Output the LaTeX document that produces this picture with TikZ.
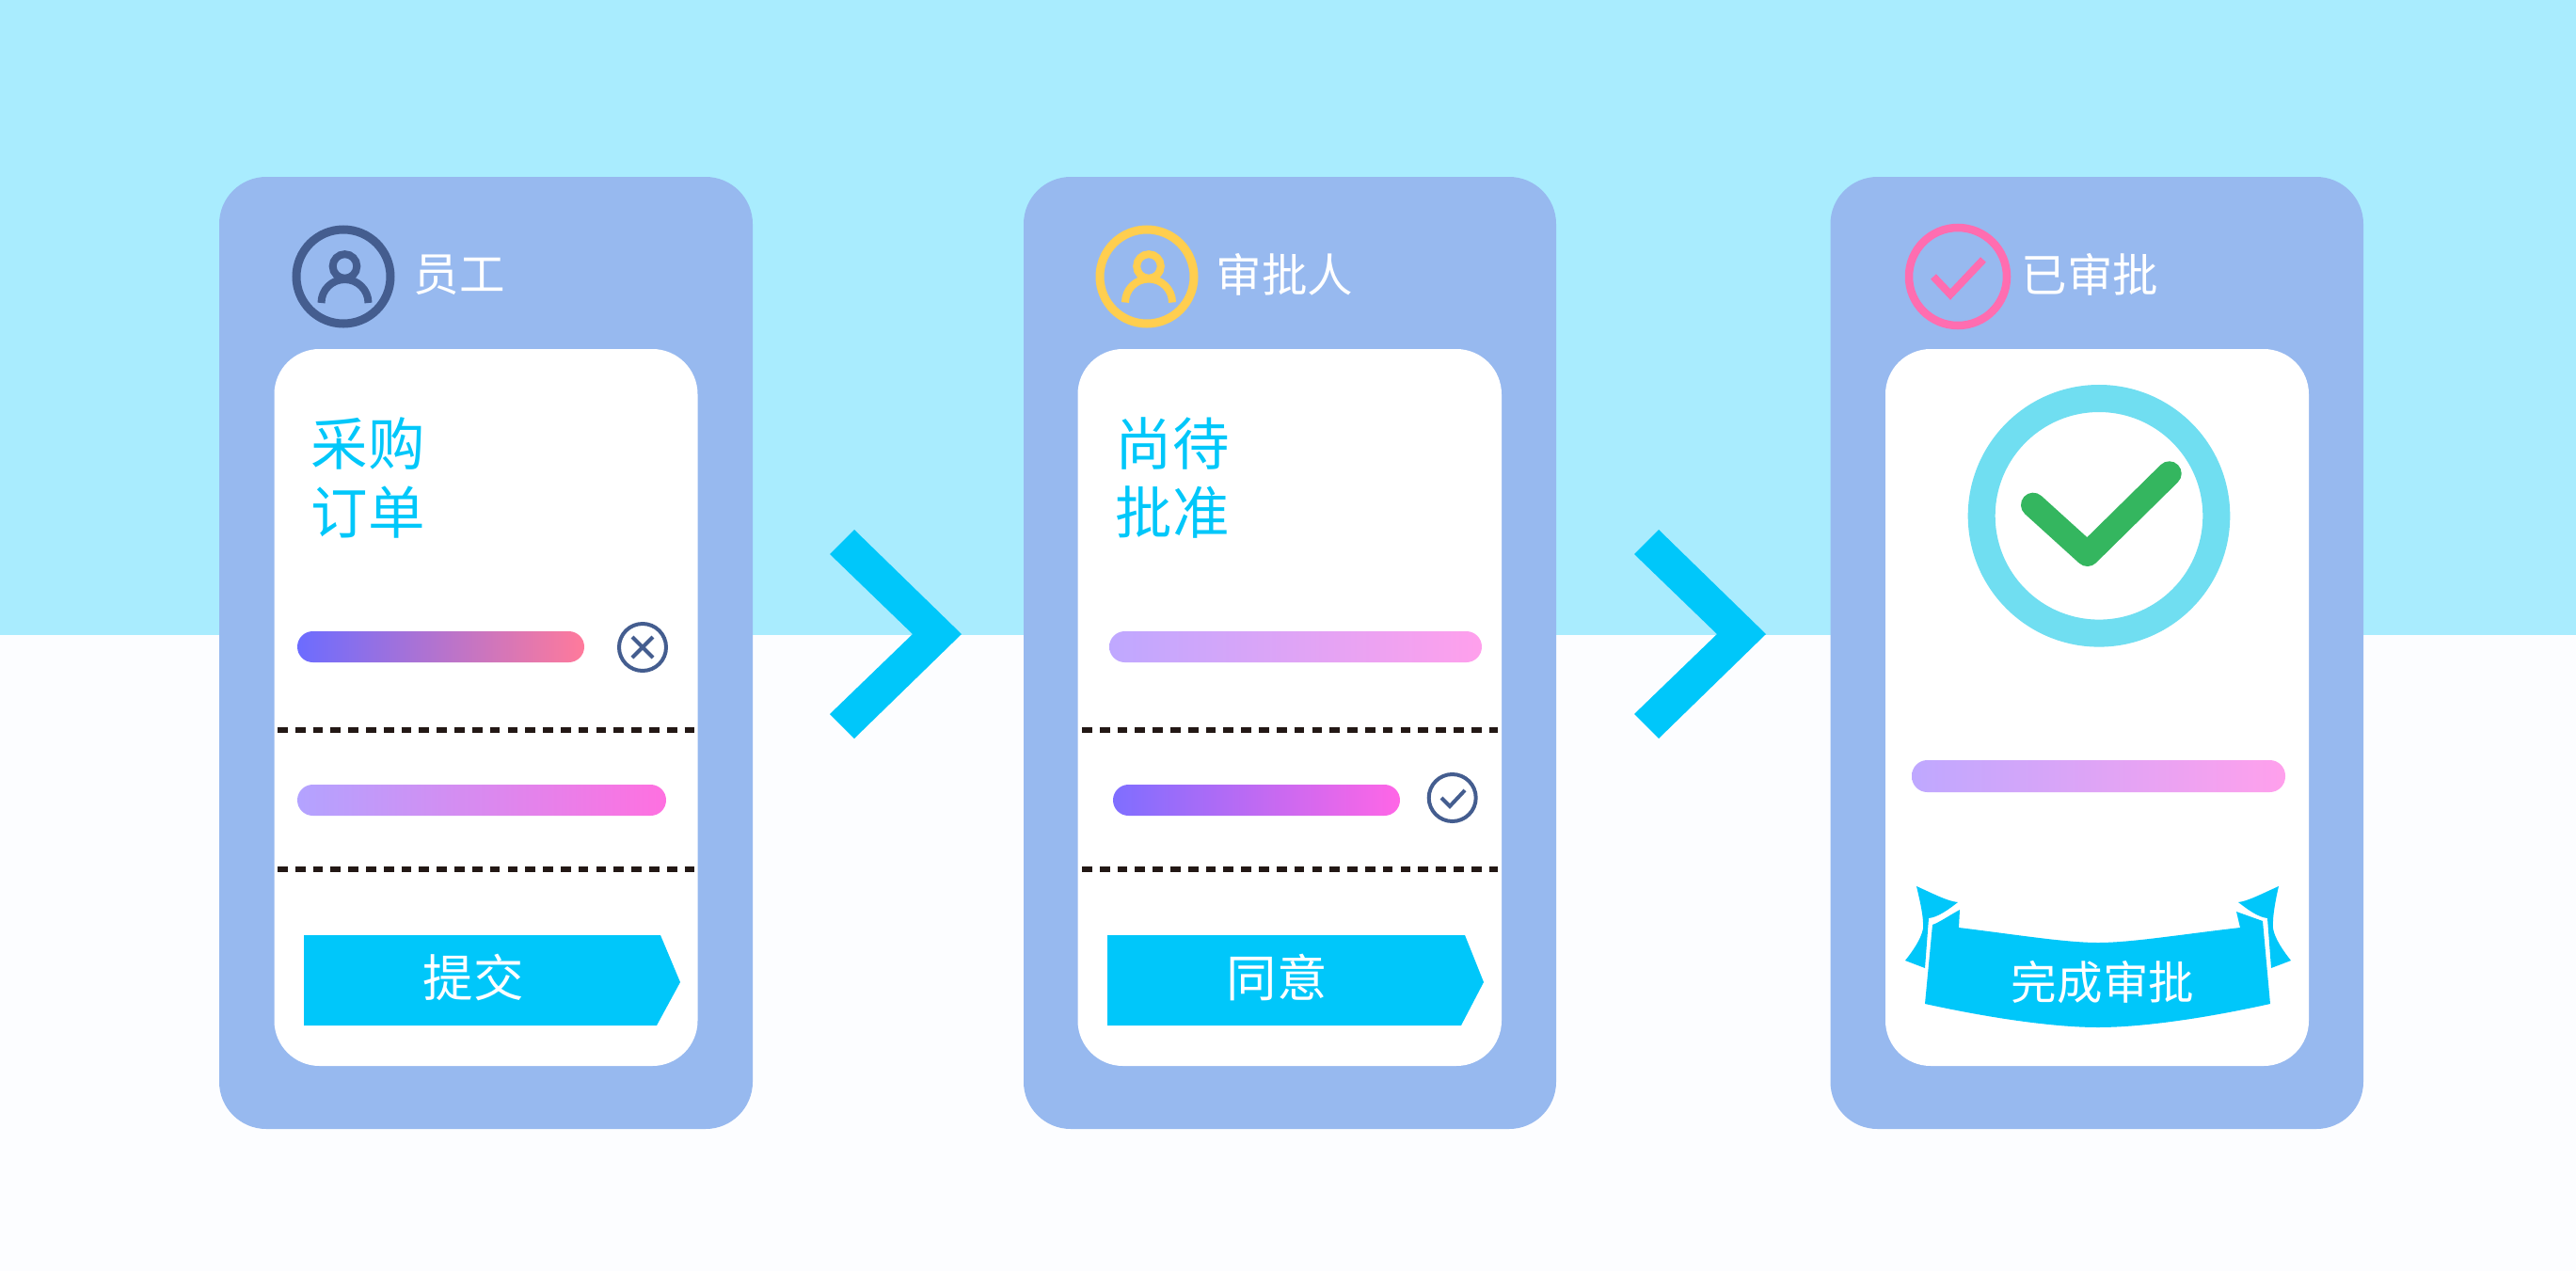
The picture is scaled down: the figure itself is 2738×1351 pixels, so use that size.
\documentclass[tikz,border=0pt]{standalone}
\usepackage{fontspec}
\setmainfont{Noto Sans CJK SC}
\usepackage{xcolor}
\definecolor{skyTop}{HTML}{A9ECFE}
\definecolor{skyLow}{HTML}{FCFDFF}
\definecolor{cardBlue}{HTML}{97B9EF}
\definecolor{brandCyan}{HTML}{00C7FA}
\definecolor{iconNavy}{HTML}{445D8F}
\definecolor{iconGold}{HTML}{FFCE4F}
\definecolor{iconPink}{HTML}{FF6DB0}
\definecolor{ringCyan}{HTML}{70DEF1}
\definecolor{tickGreen}{HTML}{34B65F}
\definecolor{dashInk}{HTML}{231815}
\definecolor{barAL}{HTML}{6C6CFF}
\definecolor{barAR}{HTML}{FF7A9B}
\definecolor{barBL}{HTML}{B3A3FF}
\definecolor{barBR}{HTML}{FF70E0}
\definecolor{barCL}{HTML}{BFA8FF}
\definecolor{barCR}{HTML}{FFA0EC}
\definecolor{barDL}{HTML}{7F6EFF}
\definecolor{barDR}{HTML}{FF66E6}
\tikzset{
  card/.style={fill=cardBlue,rounded corners=0.5cm},
  sheet/.style={fill=white,rounded corners=0.48cm},
  bar/.style={rounded corners=0.165cm},
  sepline/.style={dashInk,line width=0.065cm,dash pattern=on 0.107cm off 0.081cm},
  iconline/.style={line width=0.09cm},
  tinyring/.style={iconNavy,line width=0.04cm},
  headtext/.style={text=white,font=\fontsize{13.8}{16}\selectfont,inner sep=0pt,anchor=west},
  titletext/.style={text=brandCyan,font=\fontsize{17.2}{20}\selectfont,inner sep=0pt,anchor=west},
  btntext/.style={text=white,font=\fontsize{15.2}{18}\selectfont,inner sep=0pt},
}
\begin{document}
\begin{tikzpicture}[x=0.01cm,y=-0.01cm]
\useasboundingbox (0,0) rectangle (2738,1351);
\fill[skyLow] (0,0) rectangle (2738,1351);
\fill[skyTop] (0,0) rectangle (2738,675);

\fill[card] (233,188) rectangle (800,1200);
\fill[card] (1088,188) rectangle (1654,1200);
\fill[card] (1945.5,188) rectangle (2512,1200);
\fill[sheet] (291.5,371) rectangle (741.5,1133);
\fill[sheet] (1145.5,371) rectangle (1596,1133);
\fill[sheet] (2004,371) rectangle (2454,1133);

\fill[brandCyan] (882,589) -- (908,563) -- (1022,674) -- (908,785) -- (882,759) -- (970,674) -- cycle;
\fill[brandCyan] (1737,589) -- (1763,563) -- (1877,674) -- (1763,785) -- (1737,759) -- (1825,674) -- cycle;

\draw[iconNavy,iconline] (365,294) circle (50);
\draw[iconNavy,line width=0.08cm] (366.5,283) circle (12.8);
\draw[iconNavy,line width=0.08cm] (341.5,322) arc[start angle=180,end angle=360,radius=25];
\node[headtext] (headA) at (439,292) {员工};

\draw[iconGold,iconline] (1219,294) circle (50);
\draw[iconGold,line width=0.08cm] (1221,283) circle (12.8);
\draw[iconGold,line width=0.08cm] (1196,321.5) arc[start angle=180,end angle=360,radius=25];
\node[headtext] (headB) at (1292,292) {审批人};

\draw[iconPink,line width=0.085cm] (2081,294) circle (52);
\draw[iconPink,line width=0.08cm] (2055,294) -- (2073,313) -- (2108,276);
\node[headtext] (headC) at (2148,292) {已审批};

\node[titletext] (titleA) at (330,472) {采购};
\node[titletext] (titleB) at (330,545) {订单};
\node[titletext] (titleC) at (1185,472) {尚待};
\node[titletext] (titleD) at (1185,545) {批准};

\shade[bar,left color=barAL,right color=barAR] (316,671) rectangle (621,704);
\shade[bar,left color=barBL,right color=barBR] (316,834) rectangle (708,867);
\shade[bar,left color=barCL,right color=barCR] (1179,671) rectangle (1575,704);
\shade[bar,left color=barDL,right color=barDR] (1183,834) rectangle (1488,867);
\shade[bar,left color=barCL,right color=barCR] (2032,808) rectangle (2429,842);

\draw[tinyring] (683,688) circle (25);
\draw[tinyring] (672,677) -- (694,699);
\draw[tinyring] (694,677) -- (672,699);
\draw[tinyring] (1543.7,848) circle (25);
\draw[tinyring] (1532,848) -- (1541,857) -- (1557,840);

\draw[sepline] (295,776) -- (738,776);
\draw[sepline] (295,924) -- (738,924);
\draw[sepline] (1150,776) -- (1592,776);
\draw[sepline] (1150,924) -- (1592,924);

\fill[brandCyan] (323,994) -- (702,994) -- (723,1044) -- (698,1090) -- (323,1090) -- cycle;
\node[btntext] (submitBtn) at (503,1039) {提交};
\fill[brandCyan] (1177,994) -- (1557,994) -- (1577,1044) -- (1553,1090) -- (1177,1090) -- cycle;
\node[btntext] (agreeBtn) at (1357,1039) {同意};

\draw[ringCyan,line width=0.29cm] (2231,548.3) circle (124.8);
\draw[tickGreen,line width=0.26cm,line cap=round,line join=round] (2161,536.7) -- (2218.7,589) -- (2305.7,503.3);

\fill[brandCyan] (2037,942) .. controls (2055,950) and (2070,958) .. (2081,959) .. controls (2072,966) and (2060,975) .. (2050,976) -- (2046,1029) -- (2025,1021) .. controls (2033,1011) and (2042,998) .. (2044,987) .. controls (2045,975) and (2040,955) .. (2037,942) -- cycle;
\fill[brandCyan] (2422,942) .. controls (2404,950) and (2389,958) .. (2379,959) .. controls (2388,966) and (2400,975) .. (2410,976) -- (2414,1029) -- (2435,1021) .. controls (2427,1011) and (2418,998) .. (2416,987) .. controls (2415,975) and (2419,955) .. (2422,942) -- cycle;
\fill[brandCyan] (2046,1067) .. controls (2110,1081) and (2180,1092) .. (2230,1092) .. controls (2280,1092) and (2350,1081) .. (2413,1067) -- (2405,979) -- (2377,969) -- (2381,986) .. controls (2320,993) and (2265,1002) .. (2230,1002) .. controls (2195,1002) and (2140,993) .. (2082,986) -- (2083,967) .. controls (2072,973) and (2062,980) .. (2054,983) -- cycle;
\node[btntext,font=\fontsize{13.8}{16}\selectfont] (doneBtn) at (2235,1044) {完成审批};
\end{tikzpicture}
\end{document}
